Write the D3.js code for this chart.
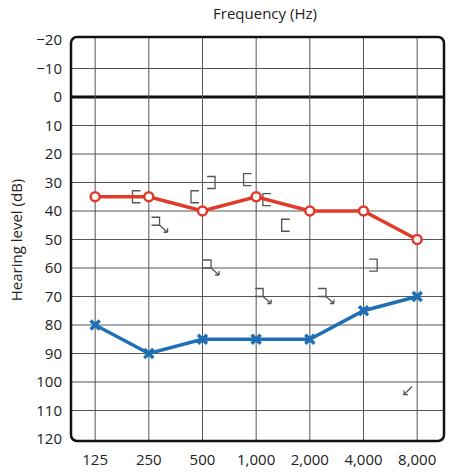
<!DOCTYPE html>
<html>
<head>
<meta charset="utf-8">
<script src="https://cdn.jsdelivr.net/npm/d3@7"></script>
<style>
  body { margin: 0; background: #fff; }
  text { font-family: "Open Sans", "DejaVu Sans", sans-serif; }
</style>
</head>
<body>
<svg id="chart" width="450" height="474"></svg>
<script>
const frequencies = ["125", "250", "500", "1,000", "2,000", "4,000", "8,000"]
const rightEar = [35, 35, 40, 35, 40, 40, 50]   // red O
const leftEar = [80, 90, 85, 85, 85, 75, 70]    // blue X
const dbTicks = [-20, -10, 0, 10, 20, 30, 40, 50, 60, 70, 80, 90, 100, 110, 120]

// bone-conduction style symbols: [frequency position (index, fractional), dB, kind]
const boneSymbols = [
  [0.77, 35, "["], [1.86, 35, "["], [2.16, 30, "]"], [2.84, 29, "["],
  [3.2, 36, "["], [3.55, 45, "["], [5.18, 59, "]"],
  [1.2, 45, "arrow"], [2.16, 60, "arrow"], [3.13, 70, "arrow"], [4.3, 70, "arrow"],
  [5.83, 103, "down"]
]

const svg = d3.select("#chart")
const plot = { left: 71, right: 444, top: 37, bottom: 441 }

const x = d3.scaleLinear().domain([-0.45, 6.5]).range([plot.left, plot.right])
const y = d3.scaleLinear().domain([-20, 120]).range([40, 439])

svg.append("text").attr("x", 265).attr("y", 19).attr("text-anchor", "middle")
  .attr("font-size", 15).attr("fill", "#222").text("Frequency (Hz)")
svg.append("text").attr("transform", "translate(22,240) rotate(-90)").attr("text-anchor", "middle")
  .attr("font-size", 15).attr("fill", "#222").text("Hearing level (dB)")

const grid = svg.append("g")
dbTicks.slice(1, -1).forEach(d => {
  grid.append("line").attr("x1", plot.left).attr("x2", plot.right).attr("y1", y(d)).attr("y2", y(d))
    .attr("stroke", d === 0 ? "#111" : "#555").attr("stroke-width", d === 0 ? 3 : 1)
})
frequencies.forEach((f, i) => {
  grid.append("line").attr("x1", x(i)).attr("x2", x(i)).attr("y1", plot.top).attr("y2", plot.bottom)
    .attr("stroke", "#555").attr("stroke-width", 1)
})
svg.append("rect").attr("x", plot.left).attr("y", plot.top)
  .attr("width", plot.right - plot.left).attr("height", plot.bottom - plot.top)
  .attr("rx", 6).attr("fill", "none").attr("stroke", "#111").attr("stroke-width", 2.5)

svg.append("g").selectAll("text").data(dbTicks).join("text")
  .attr("x", 62).attr("y", d => y(d)).attr("dy", "0.36em").attr("text-anchor", "end")
  .attr("font-size", 15).attr("fill", "#222").text(d => d < 0 ? "\u2212" + (-d) : d)
svg.append("g").selectAll("text").data(frequencies).join("text")
  .attr("x", (d, i) => x(i)).attr("y", 465).attr("text-anchor", "middle")
  .attr("font-size", 15).attr("fill", "#222").text(d => d)

// bone symbols
const sym = svg.append("g").attr("stroke", "#555").attr("fill", "none").attr("stroke-width", 1.3)
boneSymbols.forEach(([fi, db, kind]) => {
  const cx = x(fi), cy = y(db)
  if (kind === "[") sym.append("path").attr("d", `M${cx + 4},${cy - 6}H${cx - 4}V${cy + 6}H${cx + 4}`)
  else if (kind === "]") sym.append("path").attr("d", `M${cx - 4},${cy - 6}H${cx + 4}V${cy + 6}H${cx - 4}`)
  else if (kind === "arrow") {
    sym.append("path").attr("d", `M${cx - 8},${cy - 8}H${cx}V${cy}H${cx - 8}`)
    sym.append("path").attr("d", `M${cx},${cy}L${cx + 8},${cy + 7}M${cx + 8},${cy + 7}l-4,0M${cx + 8},${cy + 7}l0,-4`)
  } else {
    sym.append("path").attr("d", `M${cx + 4},${cy - 4}L${cx - 4},${cy + 4}l4,0M${cx - 4},${cy + 4}l0,-4`)
  }
})

const line = d3.line().x((d, i) => x(i)).y(d => y(d))

svg.append("path").datum(rightEar).attr("d", line).attr("fill", "none")
  .attr("stroke", "#e03a2a").attr("stroke-width", 3.5)
svg.append("g").selectAll("circle").data(rightEar).join("circle")
  .attr("cx", (d, i) => x(i)).attr("cy", d => y(d)).attr("r", 4.5)
  .attr("fill", "#fff").attr("stroke", "#e03a2a").attr("stroke-width", 2.5)

svg.append("path").datum(leftEar).attr("d", line).attr("fill", "none")
  .attr("stroke", "#1f6fb5").attr("stroke-width", 3.5)
svg.append("g").selectAll("path").data(leftEar).join("path")
  .attr("d", (d, i) => { const cx = x(i), cy = y(d), s = 4.5
    return `M${cx - s},${cy - s}L${cx + s},${cy + s}M${cx - s},${cy + s}L${cx + s},${cy - s}` })
  .attr("stroke", "#1f6fb5").attr("stroke-width", 3.5)
</script>
</body>
</html>
